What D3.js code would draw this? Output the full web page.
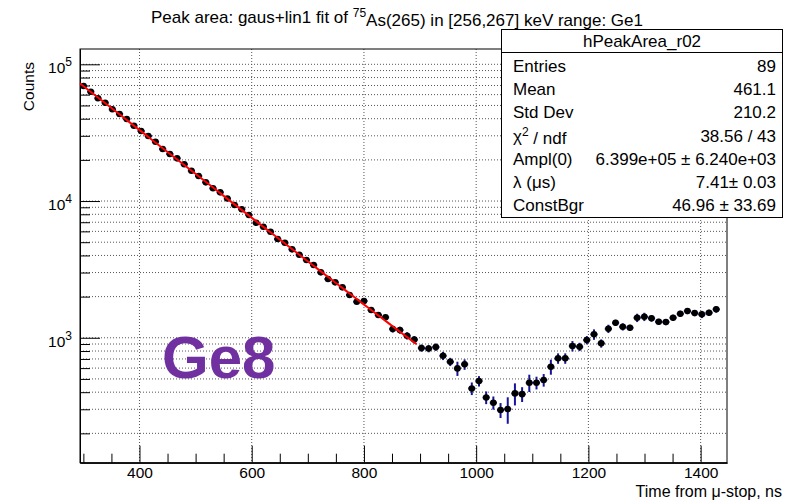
<!DOCTYPE html>
<html>
<head>
	<title>peak area</title>
	<style>
		body{ margin:0; background:#fff; }
		text{ font-family: "Liberation Sans", Arial, Helvetica, sans-serif; }
		.grid line{ stroke:#555; stroke-width:1; stroke-dasharray:1,2; }
		.axis path{ stroke:#000; }
		.axis line{ stroke:#000; }
		.axis text{ font-size:15.5px; fill:#000; }
	</style>
	<script src="https://d3js.org/d3.v7.min.js"></script>
</head>
<body>
<svg width="785" height="500"></svg>
<script>

	// histogram bins (ns): 90 bins, last one empty
	var xMin = 294, xMax = 1447, nBins = 90;

	// bin contents
	var counts = [69370, 63030, 56400, 52380, 46860, 43290, 39800, 35550, 32520, 29890,
		27150, 24010, 22070, 20530, 18560, 16660, 15240, 13700, 12390, 11580,
		10430, 9350, 8700, 7900, 6940, 6490, 5963, 5272, 4955, 4433,
		4048, 3702, 3403, 3009, 2688, 2543, 2338, 2053, 1834, 1856,
		1595, 1466, 1410, 1158, 1138, 1034, 970, 841, 834, 855,
		738, 667, 597, 639, 426, 482, 366, 335, 296, 301,
		392, 387, 469, 469, 491, 614, 707, 707, 870, 859,
		962, 1059, 910, 1164, 1287, 1203, 1184, 1401, 1424, 1387,
		1309, 1303, 1401, 1498, 1568, 1516, 1483, 1524, 1614];

	var errors = [316, 301, 285, 275, 260, 250, 239, 226, 216, 207,
		198, 186, 178, 172, 163, 155, 148, 140, 134, 129,
		123, 116, 112, 107, 100, 97, 93, 87, 84, 80,
		76, 73, 70, 66, 62, 60, 58, 54, 51, 52,
		69, 63, 61, 66, 66, 63, 59, 51, 51, 52,
		51, 46, 71, 56, 45, 42, 39, 37, 37, 66,
		72, 48, 68, 50, 52, 77, 62, 62, 76, 60,
		67, 93, 63, 81, 67, 73, 61, 98, 99, 72,
		68, 67, 73, 78, 81, 79, 90, 79, 84];

	// fit parameters (stats box)
	var fitAmpl = 6.399e5, fitLambda = 7.41, fitConst = 46.96, fitRange = [294, 894];

	var xMajor = [400, 600, 800, 1000, 1200, 1400];

	var statsRows = [
		["Entries", "89"],
		["Mean", "461.1"],
		["Std Dev", "210.2"],
		["chi", "38.56 / 43"],
		["Ampl(0)", "6.399e+05 \u00b1 6.240e+03"],
		["\u03bb (\u03bcs)", "7.41\u00b1 0.03"],
		["ConstBgr", "46.96 \u00b1 33.69"]
	];

	var svg = d3.select("svg"),
		frame = {left: 80, right: 727, top: 49, bottom: 462.7};

	var x = d3.scaleLinear().domain([xMin, xMax]).range([frame.left, frame.right]),
		y = d3.scaleLog().domain([122, 1.294e5]).range([frame.bottom, frame.top]);

	var binW = (xMax - xMin) / nBins;
	var data = counts.map(function(c, i){
		return {t: xMin + binW * (i + 0.5), v: c, e: errors[i]};
	});

	// grid
	var grid = svg.append("g").attr("class", "grid");
	grid.selectAll(".gy").data(y.ticks()).enter().append("line")
		.attr("x1", frame.left).attr("x2", frame.right)
		.attr("y1", function(d){ return y(d); }).attr("y2", function(d){ return y(d); });
	grid.selectAll(".gx").data(xMajor).enter().append("line")
		.attr("y1", frame.top).attr("y2", frame.bottom)
		.attr("x1", function(d){ return x(d); }).attr("x2", function(d){ return x(d); });

	// frame
	svg.append("rect")
		.attr("x", frame.left).attr("y", frame.top)
		.attr("width", frame.right - frame.left).attr("height", frame.bottom - frame.top)
		.attr("fill", "none").attr("stroke", "#000");

	// y axis: minor and major ticks pointing inside
	var isMajor = function(d){ return Math.abs(Math.log10(d) - Math.round(Math.log10(d))) < 1e-6; };
	svg.append("g").attr("class", "axis")
		.attr("transform", "translate(" + frame.left + ",0)")
		.call(d3.axisLeft(y).tickValues(y.ticks().filter(function(d){ return !isMajor(d); }))
			.tickSize(-10).tickSizeOuter(0).tickFormat(""));
	var yAx = svg.append("g").attr("class", "axis")
		.attr("transform", "translate(" + frame.left + ",0)")
		.call(d3.axisLeft(y).tickValues(y.ticks().filter(isMajor))
			.tickSize(-20).tickSizeOuter(0).tickPadding(8));
	yAx.selectAll(".tick text").each(function(d){
		var t = d3.select(this).text(null).attr("dy", "0.55em").attr("font-size", "17px");
		t.append("tspan").text("10");
		t.append("tspan").attr("dy", "-0.6em").attr("font-size", "12px").text(Math.round(Math.log10(d)));
	});

	// x axis
	var xMinor = d3.range(300, 1447, 50).filter(function(d){ return xMajor.indexOf(d) < 0; });
	svg.append("g").attr("class", "axis")
		.attr("transform", "translate(0," + frame.bottom + ")")
		.call(d3.axisBottom(x).tickValues(xMinor).tickSize(-9).tickSizeOuter(0).tickFormat(""));
	svg.append("g").attr("class", "axis")
		.attr("transform", "translate(0," + frame.bottom + ")")
		.call(d3.axisBottom(x).tickValues(xMajor).tickSize(-17).tickSizeOuter(0).tickPadding(4)
			.tickFormat(d3.format("d")));

	// error bars and markers
	var pts = svg.append("g");
	pts.selectAll(".ev").data(data).enter().append("line")
		.attr("x1", function(d){ return x(d.t); }).attr("x2", function(d){ return x(d.t); })
		.attr("y1", function(d){ return y(d.v - d.e); }).attr("y2", function(d){ return y(d.v + d.e); })
		.attr("stroke", "#14149c").attr("stroke-width", 2);
	pts.selectAll(".eh").data(data).enter().append("line")
		.attr("x1", function(d){ return x(d.t - binW / 2); }).attr("x2", function(d){ return x(d.t + binW / 2); })
		.attr("y1", function(d){ return y(d.v); }).attr("y2", function(d){ return y(d.v); })
		.attr("stroke", "#14149c").attr("stroke-width", 2);
	pts.selectAll("circle").data(data).enter().append("circle")
		.attr("cx", function(d){ return x(d.t); }).attr("cy", function(d){ return y(d.v); })
		.attr("r", 3.3).attr("fill", "#000");

	// fit curve
	var fitT = d3.range(fitRange[0], fitRange[1] + 1, 4);
	svg.append("path")
		.datum(fitT)
		.attr("fill", "none").attr("stroke", "#ff0000").attr("stroke-width", 2)
		.attr("d", d3.line()
			.x(function(t){ return x(t); })
			.y(function(t){ return y(fitAmpl * Math.exp(-fitLambda * t / 1000) + fitConst); }));

	// labels
	var title = svg.append("text").attr("x", 397).attr("y", 23)
		.attr("text-anchor", "middle").attr("font-size", "17px");
	title.append("tspan").text("Peak area: gaus+lin1 fit of ");
	title.append("tspan").attr("dy", "-0.5em").attr("font-size", "12px").text("75");
	title.append("tspan").attr("dy", "0.5em").text("As(265) in [256,267] keV range: Ge1");

	svg.append("text").attr("transform", "translate(34,62) rotate(-90)")
		.attr("text-anchor", "end").attr("font-size", "15.5px").text("Counts");

	svg.append("text").attr("x", 782).attr("y", 497)
		.attr("text-anchor", "end").attr("font-size", "16px").text("Time from \u03bc-stop, ns");

	svg.append("text").attr("x", 162).attr("y", 378)
		.attr("font-size", "60px").attr("font-weight", "bold").attr("fill", "#7030a0").text("Ge8");

	// stats box
	var box = svg.append("g");
	box.append("rect").attr("x", 501.5).attr("y", 29.5).attr("width", 281).attr("height", 188)
		.attr("fill", "#fff").attr("stroke", "#000");
	box.append("line").attr("x1", 501.5).attr("x2", 782.5).attr("y1", 52.5).attr("y2", 52.5).attr("stroke", "#000");
	box.append("text").attr("x", 642).attr("y", 47).attr("text-anchor", "middle")
		.attr("font-size", "17px").text("hPeakArea_r02");
	statsRows.forEach(function(r, i){
		var yy = 72 + i * 23.2;
		var lab = box.append("text").attr("x", 513).attr("y", yy).attr("font-size", "17px");
		if(r[0] === "chi"){
			lab.append("tspan").text("\u03c7");
			lab.append("tspan").attr("dy", "-0.45em").attr("font-size", "12px").text("2");
			lab.append("tspan").attr("dy", "0.45em").text(" / ndf");
		} else {
			lab.text(r[0]);
		}
		box.append("text").attr("x", 776).attr("y", yy).attr("text-anchor", "end")
			.attr("font-size", "17px").text(r[1]);
	});

</script>
</body>
</html>
